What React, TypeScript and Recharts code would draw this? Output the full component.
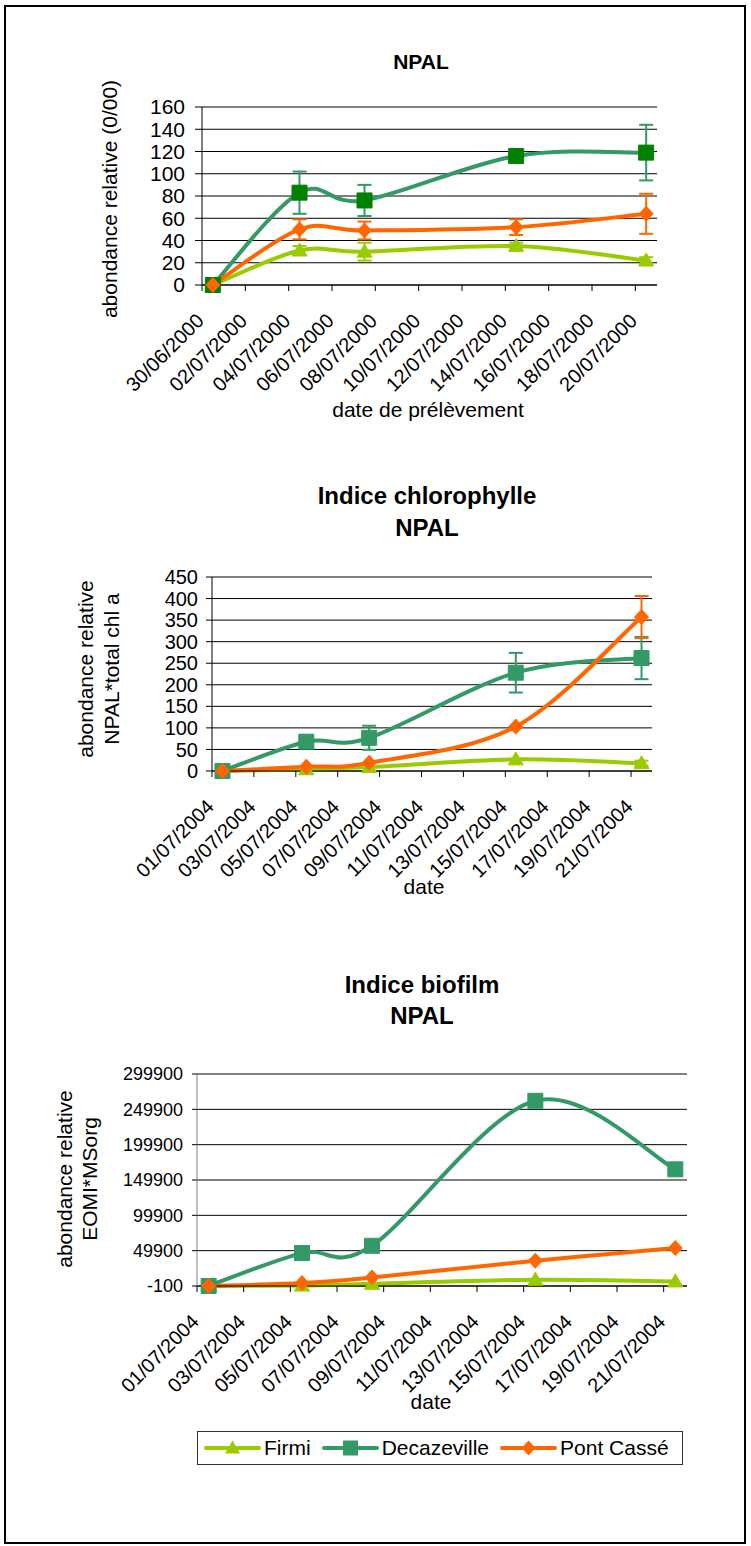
import React from 'react';
import { LineChart, Line, XAxis, YAxis, CartesianGrid, ErrorBar, Legend } from 'recharts';

const FONT = '"Liberation Sans", Arial, Helvetica, sans-serif';

const FIRMI = '#99CC00';
const DECA = '#339966';
const DECA_DARK = '#008000';
const PONT = '#FF6600';

// sampling positions, in days after the first axis date
const sampleDays = [0.5, 4.5, 7.5, 14.5, 20.5];

const dateTicks2000 = ['30/06/2000', '02/07/2000', '04/07/2000', '06/07/2000', '08/07/2000', '10/07/2000', '12/07/2000', '14/07/2000', '16/07/2000', '18/07/2000', '20/07/2000'];
const dateTicks2004 = ['01/07/2004', '03/07/2004', '05/07/2004', '07/07/2004', '09/07/2004', '11/07/2004', '13/07/2004', '15/07/2004', '17/07/2004', '19/07/2004', '21/07/2004'];

// Chart 1 : NPAL
const npalTicks = [0, 20, 40, 60, 80, 100, 120, 140, 160];
const npalFirmi = [0, 31, 30, 35, 22];
const npalFirmiErr = [0, 4, 8, 3, 3];
const npalDeca = [0, 83, 76, 116, 119];
const npalDecaErr = [0, 19, 14, 0, 25];
const npalPont = [0, 50, 49, 52, 64];
const npalPontErr = [0, 9, 8, 7, 18];

// Chart 2 : Indice chlorophylle
const chlTicks = [0, 50, 100, 150, 200, 250, 300, 350, 400, 450];
const chlFirmi = [0, 4, 9, 27, 18];
const chlFirmiErr = [0, 0, 0, 0, 6];
const chlDeca = [0, 68, 77, 228, 262];
const chlDecaErr = [0, 0, 28, 46, 49];
const chlPont = [0, 10, 19, 103, 357];
const chlPontErr = [0, 0, 0, 0, 49];

// Chart 3 : Indice biofilm
const bioTicks = [-100, 49900, 99900, 149900, 199900, 249900, 299900];
const bioFirmi = [0, 500, 3000, 8800, 6400];
const bioDeca = [0, 46500, 56800, 262000, 165000];
const bioPont = [0, 4100, 12000, 35600, 53600];

const seriesNames = ['Firmi', 'Decazeville', 'Pont Cassé'];

const buildRows = (f: number[], fe: number[], d: number[], de: number[], p: number[], pe: number[]) =>
  sampleDays.map((day, i) => ({
    day,
    firmi: f[i], firmiErr: fe[i],
    deca: d[i], decaErr: de[i],
    pont: p[i], pontErr: pe[i],
  }));

const npalRows = buildRows(npalFirmi, npalFirmiErr, npalDeca, npalDecaErr, npalPont, npalPontErr);
const chlRows = buildRows(chlFirmi, chlFirmiErr, chlDeca, chlDecaErr, chlPont, chlPontErr);
const bioRows = buildRows(bioFirmi, [0, 0, 0, 0, 0], bioDeca, [0, 0, 0, 0, 0], bioPont, [0, 0, 0, 0, 0]);

// Excel-like smoothed line (Catmull-Rom style bezier)
function excelSmooth(context: any) {
  let pts: number[][] = [];
  return {
    areaStart() {},
    areaEnd() {},
    lineStart() { pts = []; },
    point(x: number, y: number) { pts.push([x, y]); },
    lineEnd() {
      const n = pts.length;
      if (!n) return;
      context.moveTo(pts[0][0], pts[0][1]);
      for (let i = 0; i < n - 1; i++) {
        const p0 = pts[Math.max(i - 1, 0)];
        const p1 = pts[i];
        const p2 = pts[i + 1];
        const p3 = pts[Math.min(i + 2, n - 1)];
        context.bezierCurveTo(
          p1[0] + (p2[0] - p0[0]) / 6, p1[1] + (p2[1] - p0[1]) / 6,
          p2[0] - (p3[0] - p1[0]) / 6, p2[1] - (p3[1] - p1[1]) / 6,
          p2[0], p2[1]
        );
      }
    },
  };
}

const triPath = (cx: number, cy: number) => `M${cx},${cy - 7.5}L${cx + 7.5},${cy + 5.5}L${cx - 7.5},${cy + 5.5}Z`;
const sqPath = (cx: number, cy: number) => `M${cx - 7.5},${cy - 7.5}h15v15h-15Z`;
const diaPath = (cx: number, cy: number) => `M${cx},${cy - 7.5}L${cx + 7},${cy}L${cx},${cy + 7.5}L${cx - 7},${cy}Z`;

const makeDot = (shape: (cx: number, cy: number) => string, color: string, prefix: string) => (props: any) => {
  const { cx, cy, index } = props;
  if (cx == null || cy == null) return <g key={`${prefix}-${index}`} />;
  return <path key={`${prefix}-${index}`} d={shape(cx, cy)} fill={color} stroke={color} strokeWidth={1} />;
};

const makeXTick = (labels: string[]) => (props: any) => {
  const { x, y, payload } = props;
  const ax = x + 3;
  const ay = y + 29;
  const label = labels[Math.round(payload.value / 2)];
  return (
    <text x={ax} y={ay} textAnchor="end" transform={`rotate(-45 ${ax} ${ay})`} fontSize={20} fill="#000" fontFamily={FONT}>
      {label}
    </text>
  );
};

const xTickValues = dateTicks2000.map((_, i) => i * 2);

const legendIcons = [
  { color: FIRMI, shape: triPath },
  { color: DECA, shape: sqPath },
  { color: PONT, shape: diaPath },
];

const renderLegend = () => (
  <div style={{ width: 486, height: 34, boxSizing: 'border-box', border: '1px solid #333', background: '#fff', display: 'flex', flexWrap: 'nowrap', alignItems: 'center', paddingLeft: 6, fontFamily: FONT, fontSize: 21, lineHeight: '24px', color: '#000', whiteSpace: 'nowrap', overflow: 'visible' }}>
    {seriesNames.map((name, i) => (
      <div key={name} style={{ display: 'flex', alignItems: 'center', marginRight: 11, flexShrink: 0 }}>
        <svg width={57} height={20} style={{ marginRight: 3, flexShrink: 0, display: 'block' }}>
          <line x1={2} y1={10} x2={55} y2={10} stroke={legendIcons[i].color} strokeWidth={4} strokeLinecap="round" />
          <path d={legendIcons[i].shape(28.5, 10)} fill={legendIcons[i].color} />
        </svg>
        <span style={{ whiteSpace: 'nowrap' }}>{name}</span>
      </div>
    ))}
  </div>
);

type SeriesProps = { squareColor: string; withErr: boolean };

const renderSeries = ({ squareColor, withErr }: SeriesProps) => [
  <Line key="firmi" dataKey="firmi" name="Firmi" type={excelSmooth as any} stroke={FIRMI} strokeWidth={4} dot={makeDot(triPath, FIRMI, 'f')} activeDot={false} isAnimationActive={false}>
    {withErr && <ErrorBar dataKey="firmiErr" direction="y" width={7} stroke={FIRMI} strokeWidth={2} />}
  </Line>,
  <Line key="deca" dataKey="deca" name="Decazeville" type={excelSmooth as any} stroke={DECA} strokeWidth={4} dot={makeDot(sqPath, squareColor, 'd')} activeDot={false} isAnimationActive={false}>
    {withErr && <ErrorBar dataKey="decaErr" direction="y" width={7} stroke={DECA} strokeWidth={2} />}
  </Line>,
  <Line key="pont" dataKey="pont" name="Pont Cassé" type={excelSmooth as any} stroke={PONT} strokeWidth={4} dot={makeDot(diaPath, PONT, 'p')} activeDot={false} isAnimationActive={false}>
    {withErr && <ErrorBar dataKey="pontErr" direction="y" width={7} stroke={PONT} strokeWidth={2} />}
  </Line>,
];

const axisText = { fontSize: 21, fill: '#000', fontFamily: FONT };

export default function App() {
  return (
    <div style={{ position: 'absolute', left: 0, top: 0, width: 751, height: 1546, background: '#fff', fontFamily: FONT }}>
      <div style={{ position: 'absolute', left: 4, top: 5, width: 742, height: 1539, border: '2px solid #000', boxSizing: 'border-box' }} />

      <svg width={751} height={1546} style={{ position: 'absolute', left: 0, top: 0 }} fontFamily={FONT}>
        <text x={421} y={69} textAnchor="middle" fontSize={21} fontWeight="bold" fill="#000">NPAL</text>
        <text transform="translate(117 199) rotate(-90)" textAnchor="middle" fontSize={21} fill="#000">abondance relative (0/00)</text>
        <text x={428} y={417} textAnchor="middle" fontSize={21} fill="#000">date de prélèvement</text>

        <text x={427} y={504} textAnchor="middle" fontSize={24} fontWeight="bold" fill="#000">Indice chlorophylle</text>
        <text x={427} y={536} textAnchor="middle" fontSize={24} fontWeight="bold" fill="#000">NPAL</text>
        <text transform="translate(93 669) rotate(-90)" textAnchor="middle" fontSize={21} fill="#000">abondance relative</text>
        <text transform="translate(119 669) rotate(-90)" textAnchor="middle" fontSize={21} fill="#000">NPAL*total chl a</text>
        <text x={424} y={894} textAnchor="middle" fontSize={21} fill="#000">date</text>

        <text x={422} y={993} textAnchor="middle" fontSize={24} fontWeight="bold" fill="#000">Indice biofilm</text>
        <text x={422} y={1024} textAnchor="middle" fontSize={24} fontWeight="bold" fill="#000">NPAL</text>
        <text transform="translate(72 1179) rotate(-90)" textAnchor="middle" fontSize={21} fill="#000">abondance relative</text>
        <text transform="translate(97 1179) rotate(-90)" textAnchor="middle" fontSize={21} fill="#000">EOMI*MSorg</text>
        <text x={431} y={1409} textAnchor="middle" fontSize={21} fill="#000">date</text>
      </svg>

      <div style={{ position: 'absolute', left: 0, top: 0 }}>
        <LineChart width={751} height={440} data={npalRows} margin={{ top: 107, right: 94, bottom: 15, left: 0 }}>
          <CartesianGrid vertical={false} stroke="#000" strokeWidth={1} />
          <XAxis dataKey="day" type="number" domain={[0, 21]} ticks={xTickValues} interval={0} height={140}
            axisLine={{ stroke: '#000' }} tickLine={{ stroke: '#000' }} tickSize={6} tick={makeXTick(dateTicks2000)} />
          <YAxis type="number" domain={[0, 160]} ticks={npalTicks} interval={0} width={202}
            axisLine={{ stroke: '#000' }} tickLine={{ stroke: '#000' }} tickSize={7} tickMargin={10} tick={axisText} />
          {renderSeries({ squareColor: DECA_DARK, withErr: true })}
        </LineChart>
      </div>

      <div style={{ position: 'absolute', left: 0, top: 450 }}>
        <LineChart width={751} height={480} data={chlRows} margin={{ top: 127, right: 99, bottom: 19, left: 0 }}>
          <CartesianGrid vertical={false} stroke="#000" strokeWidth={1} />
          <XAxis dataKey="day" type="number" domain={[0, 21]} ticks={xTickValues} interval={0} height={140}
            axisLine={{ stroke: '#000' }} tickLine={{ stroke: '#000' }} tickSize={6} tick={makeXTick(dateTicks2004)} />
          <YAxis type="number" domain={[0, 450]} ticks={chlTicks} interval={0} width={212}
            axisLine={{ stroke: '#000' }} tickLine={{ stroke: '#000' }} tickSize={6} tickMargin={8} tick={{ ...axisText, fontSize: 20 }} />
          {renderSeries({ squareColor: DECA, withErr: true })}
        </LineChart>
      </div>

      <div style={{ position: 'absolute', left: 0, top: 940 }}>
        <LineChart width={751} height={600} data={bioRows} margin={{ top: 134, right: 64, bottom: 114, left: 0 }}>
          <CartesianGrid vertical={false} stroke="#000" strokeWidth={1} />
          <XAxis dataKey="day" type="number" domain={[0, 21]} ticks={xTickValues} interval={0} height={140}
            axisLine={{ stroke: '#000' }} tickLine={{ stroke: '#000' }} tickSize={6} tick={makeXTick(dateTicks2004)} />
          <YAxis type="number" domain={[-100, 299900]} ticks={bioTicks} interval={0} width={197}
            axisLine={{ stroke: '#808080' }} tickLine={{ stroke: '#000' }} tickSize={5} tickMargin={9} tick={{ ...axisText, fontSize: 18 }} />
          {renderSeries({ squareColor: DECA, withErr: false })}
          <Legend verticalAlign="middle" layout="horizontal" content={renderLegend}
            wrapperStyle={{ left: 197, top: 491, width: 486, height: 34 }} />
        </LineChart>
      </div>
    </div>
  );
}
